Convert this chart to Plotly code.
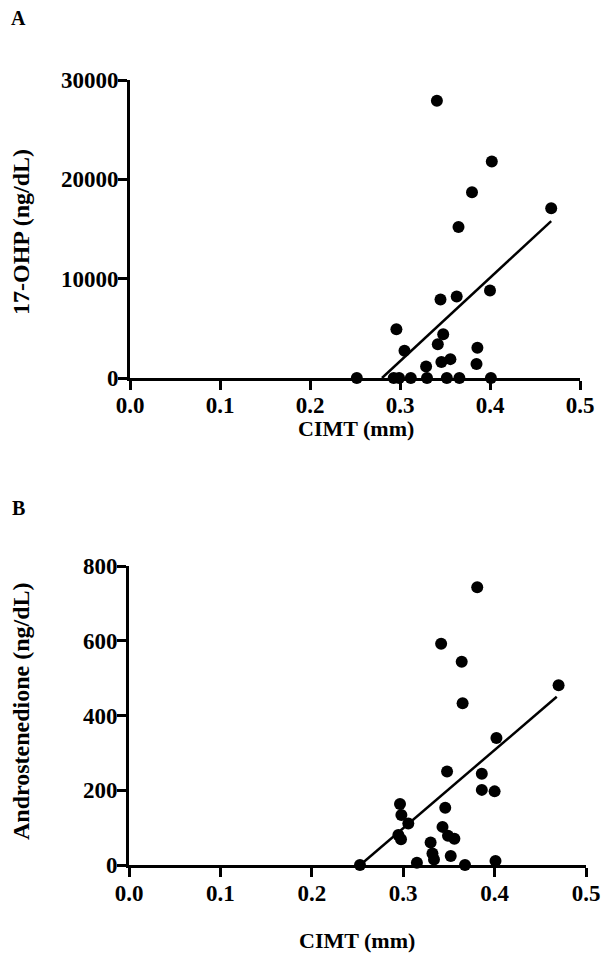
import plotly.graph_objects as go

# Panel A: 17-OHP vs CIMT
a_cimt = [0.341, 0.402, 0.380, 0.468, 0.365, 0.400, 0.345, 0.363, 0.296, 0.348,
          0.342, 0.305, 0.386, 0.356, 0.346, 0.329, 0.385,
          0.252, 0.293, 0.299, 0.312, 0.330, 0.352, 0.366, 0.401]
a_ohp = [27900, 21800, 18700, 17100, 15200, 8800, 7900, 8200, 4900, 4400,
         3400, 2750, 3050, 1900, 1600, 1150, 1400,
         0, 0, 0, 0, 0, 0, 0, 0]
a_fit_x = [0.280, 0.468]
a_fit_y = [0, 15800]

# Panel B: Androstenedione vs CIMT
b_cimt = [0.381, 0.3415, 0.364, 0.470, 0.365, 0.402, 0.348, 0.386, 0.386, 0.400,
          0.2965, 0.346, 0.298, 0.3056, 0.343, 0.2947, 0.2976, 0.349, 0.356, 0.330,
          0.332, 0.3337, 0.352, 0.315, 0.3676, 0.401, 0.2527]
b_andro = [743, 592, 544, 481, 433, 340, 250, 244, 201, 197,
           163, 153, 134, 111, 102, 80, 69, 78, 70, 60,
           31, 15, 24, 6, 0, 11, 0]
b_fit_x = [0.253, 0.468]
b_fit_y = [0, 450]

x_ticks = [0.0, 0.1, 0.2, 0.3, 0.4, 0.5]
x_ticktext = ["0.0", "0.1", "0.2", "0.3", "0.4", "0.5"]
a_yticks = [0, 10000, 20000, 30000]
b_yticks = [0, 200, 400, 600, 800]

# page body has an 8px margin; the figure is sized/positioned to compensate
OFF = 8
W, H = 611 - OFF, 964 - OFF
FONT = "Liberation Serif, Times New Roman, serif"


def px(v):
    return (v - OFF) / W


def py(v):
    return 1 - (v - OFF) / H


fig = go.Figure()
fig.add_trace(go.Scatter(x=a_cimt, y=a_ohp, mode="markers", xaxis="x", yaxis="y",
                         marker=dict(color="black", size=12), cliponaxis=False,
                         showlegend=False))
fig.add_trace(go.Scatter(x=a_fit_x, y=a_fit_y, mode="lines", xaxis="x", yaxis="y",
                         line=dict(color="black", width=2.5), showlegend=False))
fig.add_trace(go.Scatter(x=b_cimt, y=b_andro, mode="markers", xaxis="x2", yaxis="y2",
                         marker=dict(color="black", size=12), cliponaxis=False,
                         showlegend=False))
fig.add_trace(go.Scatter(x=b_fit_x, y=b_fit_y, mode="lines", xaxis="x2", yaxis="y2",
                         line=dict(color="black", width=2.5), showlegend=False))

tickfont = dict(family=FONT, size=23, color="black", weight="bold")
axis_common = dict(showline=True, linewidth=3, linecolor="black", ticks="outside",
                   ticklen=9, tickwidth=3, tickcolor="black", showgrid=False,
                   zeroline=False, tickfont=tickfont, automargin=False)

fig.update_layout(
    width=W, height=H,
    margin=dict(l=0, r=0, t=0, b=0),
    paper_bgcolor="white", plot_bgcolor="white",
    xaxis=dict(domain=[px(130), px(580)], range=[0, 0.5], anchor="y",
               tickvals=x_ticks, ticktext=x_ticktext, ticklabelstandoff=-5, **axis_common),
    yaxis=dict(domain=[py(378), py(80)], range=[0, 30000], anchor="x",
               tickvals=a_yticks, ticktext=[str(v) for v in a_yticks],
               ticklabelstandoff=-5, **axis_common),
    xaxis2=dict(domain=[px(129), px(586)], range=[0, 0.5], anchor="y2",
                tickvals=x_ticks, ticktext=x_ticktext, ticklabelstandoff=-4, **axis_common),
    yaxis2=dict(domain=[py(865), py(566)], range=[0, 800], anchor="x2",
                tickvals=b_yticks, ticktext=[str(v) for v in b_yticks],
                ticklabelstandoff=-5, **axis_common),
)

titlefont = dict(family=FONT, size=22, color="black", weight="bold")
ytitlefont = dict(family=FONT, size=24, color="black", weight="bold")
panelfont = dict(family=FONT, size=20, color="black", weight="bold")
annots = [
    dict(text="A", x=px(18), y=py(18), font=panelfont),
    dict(text="B", x=px(18), y=py(508), font=panelfont),
    dict(text="CIMT (mm)", x=px(356), y=py(428), font=titlefont),
    dict(text="CIMT (mm)", x=px(357), y=py(940), font=titlefont),
    dict(text="17-OHP (ng/dL)", x=px(21), y=py(232), textangle=-90, font=ytitlefont),
    dict(text="Androstenedione (ng/dL)", x=px(21), y=py(711), textangle=-90, font=ytitlefont),
]
for a in annots:
    fig.add_annotation(xref="paper", yref="paper", showarrow=False,
                       xanchor="center", yanchor="middle", **a)

fig.write_html("out.html")
